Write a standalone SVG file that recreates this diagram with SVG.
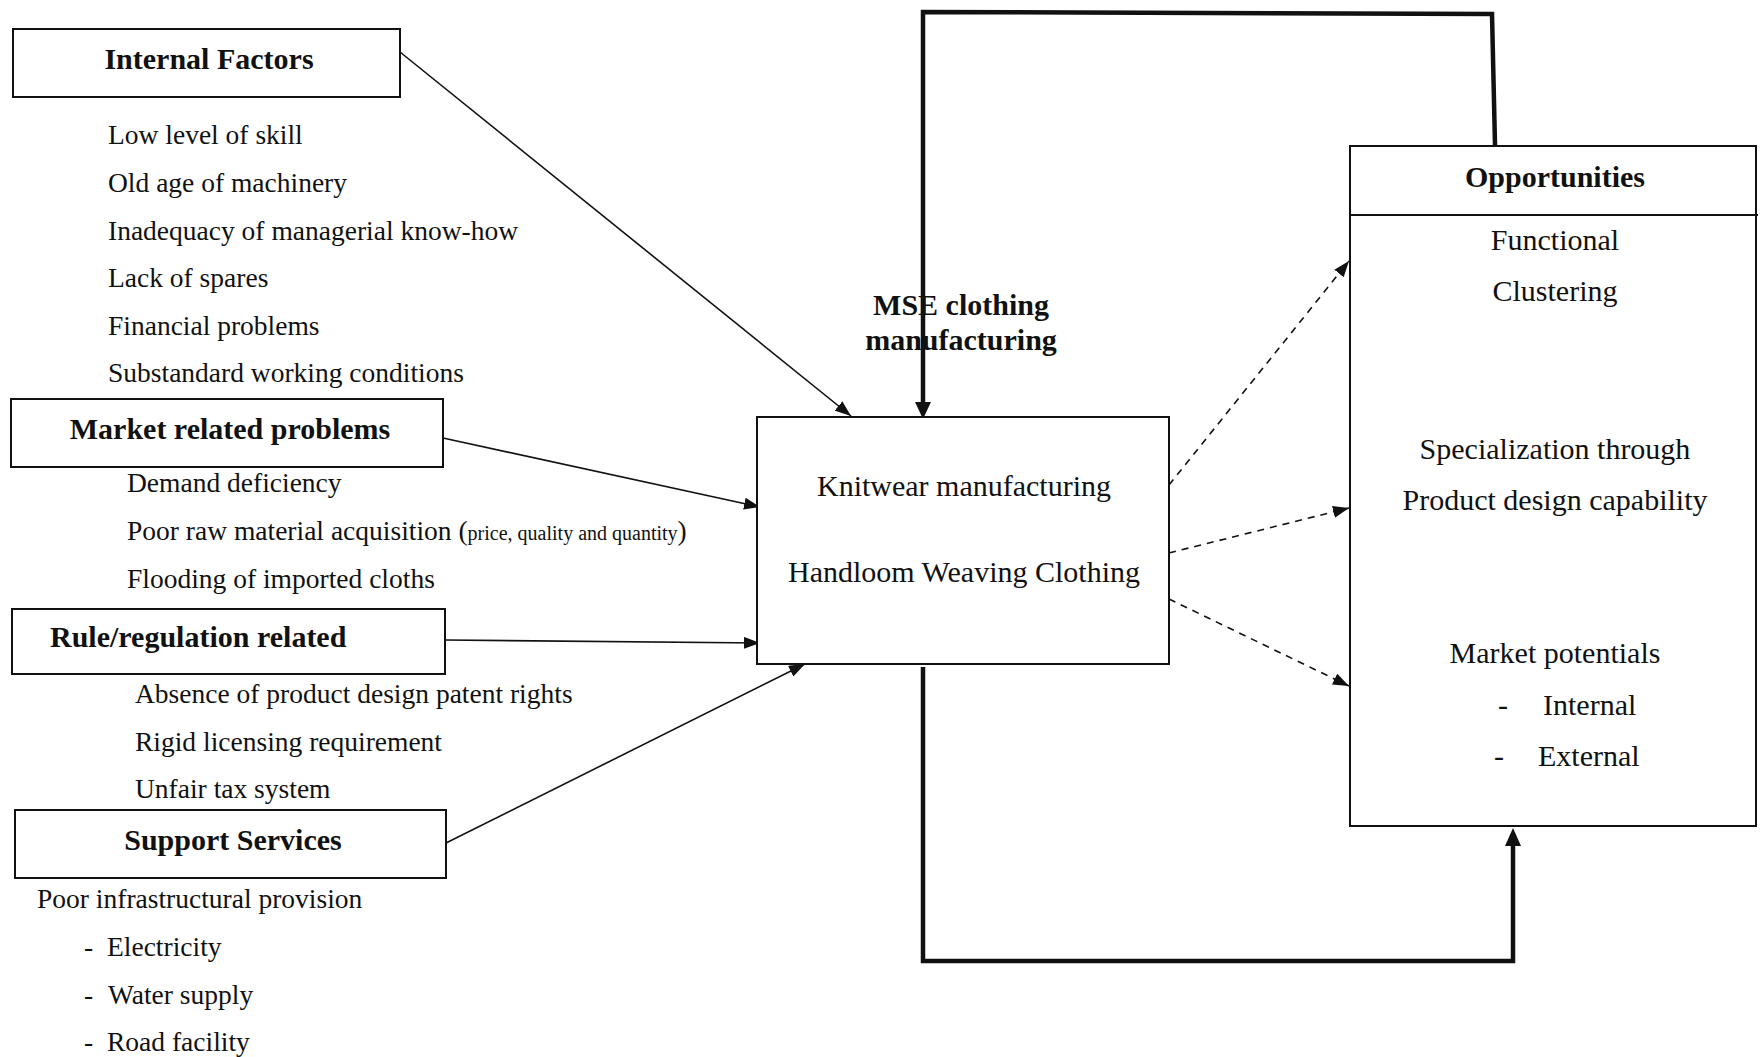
<svg xmlns="http://www.w3.org/2000/svg" width="1762" height="1057" viewBox="0 0 1762 1057">
<defs>
<marker id="ah" markerUnits="userSpaceOnUse" markerWidth="16" markerHeight="12" refX="16" refY="6" orient="auto">
<path d="M0,0 L16,6 L0,12 z" fill="#111"/>
</marker>
<style>
.box{fill:#fff;stroke:#111;stroke-width:2}
.t{font-family:"Liberation Serif","Times New Roman",serif;fill:#111}
.b{font-weight:bold;font-size:30px}
.r{font-size:27.5px}
.m{font-size:30px}
.s{font-size:20px}
.c{text-anchor:middle}
.thin{fill:none;stroke:#111;stroke-width:1.6}
.dash{fill:none;stroke:#111;stroke-width:1.6;stroke-dasharray:7 6}
.thick{fill:none;stroke:#111;stroke-width:4.5}
</style>
</defs>
<rect width="1762" height="1057" fill="#fff"/>

<g id="connectors">
<line class="thin" x1="400" y1="52" x2="851" y2="416" marker-end="url(#ah)"/>
<line class="thin" x1="443" y1="438" x2="760" y2="507" marker-end="url(#ah)"/>
<line class="thin" x1="445" y1="640" x2="760" y2="643" marker-end="url(#ah)"/>
<line class="thin" x1="446" y1="843" x2="805" y2="664" marker-end="url(#ah)"/>
<line class="dash" x1="1169" y1="485" x2="1349" y2="261" marker-end="url(#ah)"/>
<line class="dash" x1="1169" y1="553" x2="1349" y2="508" marker-end="url(#ah)"/>
<line class="dash" x1="1169" y1="599" x2="1349" y2="686" marker-end="url(#ah)"/>
<polyline class="thick" points="1495,145 1492,14 923,12 923,404"/>
<path d="M915,402 L931,402 L923,419 z" fill="#111"/>
<polyline class="thick" points="923,667 923,961 1513,961 1513,844"/>
<path d="M1505,846 L1521,846 L1513,828 z" fill="#111"/>
</g>

<g id="internal-factors">
<rect class="box" x="13" y="29" width="387" height="68"/>
<text class="t b c" x="209" y="69">Internal Factors</text>
<text class="t r" x="108" y="144">Low level of skill</text>
<text class="t r" x="108" y="192">Old age of machinery</text>
<text class="t r" x="108" y="240">Inadequacy of managerial know-how</text>
<text class="t r" x="108" y="287">Lack of spares</text>
<text class="t r" x="108" y="335">Financial problems</text>
<text class="t r" x="108" y="382">Substandard working conditions</text>
</g>

<g id="market-related-problems">
<rect class="box" x="11" y="399" width="432" height="68"/>
<text class="t b c" x="230" y="439">Market related problems</text>
<text class="t r" x="127" y="492">Demand deficiency</text>
<text class="t r" x="127" y="540">Poor raw material acquisition (<tspan class="s">price, quality and quantity</tspan>)</text>
<text class="t r" x="127" y="588">Flooding of imported cloths</text>
</g>

<g id="rule-regulation-related">
<rect class="box" x="12" y="609" width="433" height="65"/>
<text class="t b" x="50" y="647">Rule/regulation related</text>
<text class="t r" x="135" y="703">Absence of product design patent rights</text>
<text class="t r" x="135" y="751">Rigid licensing requirement</text>
<text class="t r" x="135" y="798">Unfair tax system</text>
</g>

<g id="support-services">
<rect class="box" x="15" y="810" width="431" height="68"/>
<text class="t b c" x="233" y="850">Support Services</text>
<text class="t r" x="37" y="908">Poor infrastructural provision</text>
<text class="t r" x="84" y="956">-</text>
<text class="t r" x="107" y="956">Electricity</text>
<text class="t r" x="84" y="1004">-</text>
<text class="t r" x="108" y="1004">Water supply</text>
<text class="t r" x="84" y="1051">-</text>
<text class="t r" x="107" y="1051">Road facility</text>
</g>

<g id="mse-label">
<text class="t b c" x="961" y="315">MSE clothing</text>
<text class="t b c" x="961" y="350">manufacturing</text>
</g>

<g id="mse-box">
<rect class="box" x="757" y="417" width="412" height="247"/>
<text class="t m c" x="964" y="496">Knitwear manufacturing</text>
<text class="t m c" x="964" y="582">Handloom Weaving Clothing</text>
</g>

<g id="opportunities">
<rect class="box" x="1350" y="146" width="406" height="680"/>
<line x1="1350" y1="215" x2="1758" y2="215" stroke="#111" stroke-width="2"/>
<text class="t b c" x="1555" y="187">Opportunities</text>
<text class="t m c" x="1555" y="250">Functional</text>
<text class="t m c" x="1555" y="301">Clustering</text>
<text class="t m c" x="1555" y="459">Specialization through</text>
<text class="t m c" x="1555" y="510">Product design capability</text>
<text class="t m c" x="1555" y="663">Market potentials</text>
<text class="t m" x="1498" y="715">-</text>
<text class="t m" x="1543" y="715">Internal</text>
<text class="t m" x="1494" y="766">-</text>
<text class="t m" x="1538" y="766">External</text>
</g>
</svg>
